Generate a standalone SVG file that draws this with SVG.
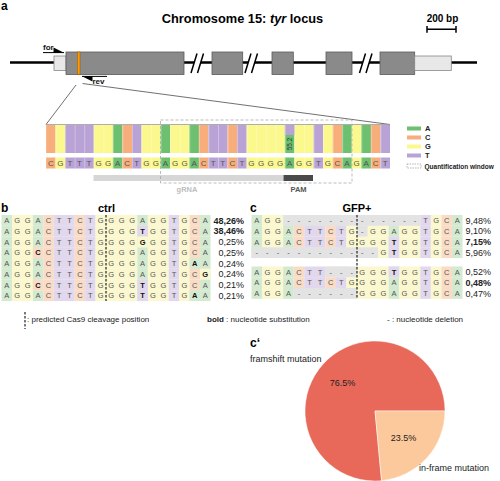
<svg xmlns="http://www.w3.org/2000/svg" xmlns:xlink="http://www.w3.org/1999/xlink" width="500" height="481" viewBox="0 0 500 481">
<style>
text{font-family:"Liberation Sans",Arial,sans-serif}
.a{fill:#6cc070}.c{fill:#f8ae7a}.g{fill:#fbf88e}.t{fill:#b9a3d6}
.la{fill:#d3ead0}.lc{fill:#fadcc6}.lg{fill:#fbf8cf}.lt{fill:#e1d8ed}.ld{fill:#e3e3e3}
.exon{fill:#8a8a8a;stroke:#5a5a5a;stroke-width:0.8}
.utr{fill:#e8e8e8;stroke:#888;stroke-width:0.8}
.brk{stroke:#000;stroke-width:1.5}
.lbl{font-weight:bold;fill:#000}
.seq{font-size:8px;fill:#555;text-anchor:middle}
.sb{font-size:7.5px;fill:#555;text-anchor:middle}
.bo{font-weight:bold;fill:#111}
.pct{font-size:9px;fill:#222;text-anchor:end}
.cut{stroke:#222;stroke-width:1.2;stroke-dasharray:2.5 1.5}
.leg{font-size:7.5px;font-weight:bold;fill:#222}
.note{font-size:8px;fill:#222}
</style>
<defs>
<pattern id="sep" x="46" y="0" width="9.5556" height="10" patternUnits="userSpaceOnUse"><rect width="0.5" height="10" fill="#fff" fill-opacity="0.6"/></pattern>
<g id="cols">
<rect class="c" x="46" width="9.6" height="1"/>
<rect class="g" x="55.56" width="9.6" height="1"/>
<rect class="t" x="65.11" width="28.7" height="1"/>
<rect class="g" x="93.78" width="19.15" height="1"/>
<rect class="a" x="112.89" width="9.6" height="1"/>
<rect class="c" x="122.44" width="9.6" height="1"/>
<rect class="t" x="132" width="9.6" height="1"/>
<rect class="g" x="141.56" width="19.15" height="1"/>
<rect class="a" x="160.67" width="9.6" height="1"/>
<rect class="g" x="170.22" width="19.15" height="1"/>
<rect class="a" x="189.33" width="9.6" height="1"/>
<rect class="c" x="198.89" width="9.6" height="1"/>
<rect class="t" x="208.44" width="19.15" height="1"/>
<rect class="c" x="227.56" width="9.6" height="1"/>
<rect class="t" x="237.11" width="9.6" height="1"/>
<rect class="g" x="246.67" width="38.25" height="1"/>
<rect class="a" x="284.89" width="9.6" height="1"/>
<rect class="g" x="294.44" width="19.15" height="1"/>
<rect class="t" x="313.56" width="9.6" height="1"/>
<rect class="g" x="323.11" width="9.6" height="1"/>
<rect class="c" x="332.67" width="9.6" height="1"/>
<rect class="a" x="342.22" width="9.6" height="1"/>
<rect class="g" x="351.78" width="9.6" height="1"/>
<rect class="a" x="361.33" width="9.6" height="1"/>
<rect class="c" x="370.89" width="9.6" height="1"/>
<rect class="t" x="380.44" width="9.56" height="1"/>
</g>
<g id="rb">
<rect class="la" x="1.5" width="10.5" height="10.8"/>
<rect class="lg" x="11.95" width="20.95" height="10.8"/>
<rect class="la" x="32.85" width="10.5" height="10.8"/>
<rect class="lc" x="43.3" width="10.5" height="10.8"/>
<rect class="lt" x="53.75" width="20.95" height="10.8"/>
<rect class="lc" x="74.65" width="10.5" height="10.8"/>
<rect class="lt" x="85.1" width="10.5" height="10.8"/>
<rect class="lg" x="95.55" width="41.85" height="10.8"/>
<rect class="la" x="137.35" width="10.5" height="10.8"/>
<rect class="lg" x="147.8" width="20.95" height="10.8"/>
<rect class="lt" x="168.7" width="10.5" height="10.8"/>
<rect class="lg" x="179.15" width="10.5" height="10.8"/>
<rect class="lc" x="189.6" width="10.5" height="10.8"/>
<rect class="la" x="200.05" width="10.45" height="10.8"/>
</g>
<g id="rc">
<rect class="la" x="251.5" width="10.6" height="10.8"/>
<rect class="lg" x="262.05" width="21.15" height="10.8"/>
<rect class="la" x="283.15" width="10.6" height="10.8"/>
<rect class="lc" x="293.7" width="10.6" height="10.8"/>
<rect class="lt" x="304.25" width="21.15" height="10.8"/>
<rect class="lc" x="325.35" width="10.6" height="10.8"/>
<rect class="lt" x="335.9" width="10.6" height="10.8"/>
<rect class="lg" x="346.45" width="42.25" height="10.8"/>
<rect class="la" x="388.65" width="10.6" height="10.8"/>
<rect class="lg" x="399.2" width="21.15" height="10.8"/>
<rect class="lt" x="420.3" width="10.6" height="10.8"/>
<rect class="lg" x="430.85" width="10.6" height="10.8"/>
<rect class="lc" x="441.4" width="10.6" height="10.8"/>
<rect class="la" x="451.95" width="10.55" height="10.8"/>
</g>
</defs>
<rect width="500" height="481" fill="#fff"/>

<g id="panel-a">
<text class="lbl" x="1" y="10" font-size="12">a</text>
<text class="lbl" x="242.5" y="23" font-size="12.8" text-anchor="middle">Chromosome 15: <tspan font-style="italic">tyr</tspan> locus</text>
<text class="lbl" x="442.5" y="21.5" font-size="10" text-anchor="middle">200 bp</text>
<path d="M427,29.3H456M427,26V32.7M456,26V32.7" stroke="#000" stroke-width="1.5" fill="none"/>
</g>

<g id="gene">
<line x1="10" y1="62.5" x2="477" y2="62.5" stroke="#000" stroke-width="2.5"/>
<rect class="utr" x="54" y="56" width="12" height="14.5"/>
<rect class="exon" x="66" y="52" width="118" height="22.5"/>
<rect x="77.3" y="52" width="2.7" height="22.5" fill="#ff9900" stroke="#7a4a00" stroke-width="0.4"/>
<rect class="exon" x="212" y="52" width="30.7" height="22.5"/>
<rect class="exon" x="272" y="52" width="21.3" height="22.5"/>
<rect class="exon" x="326" y="52" width="26" height="22.5"/>
<rect class="exon" x="380" y="52" width="34.7" height="22.5"/>
<rect class="utr" x="414.7" y="56" width="36.6" height="14.5"/>
<g id="breaks">
<polygon points="191,73 197,53.5 203.5,53.5 197.5,73" fill="#fff"/>
<path class="brk" d="M191,73L197,53.5M197.5,73L203.5,53.5"/>
<polygon points="245,73 251,53.5 257.5,53.5 251.5,73" fill="#fff"/>
<path class="brk" d="M245,73L251,53.5M251.5,73L257.5,53.5"/>
<polygon points="359.5,73 365.5,53.5 372,53.5 366,73" fill="#fff"/>
<path class="brk" d="M359.5,73L365.5,53.5M366,73L372,53.5"/>
</g>
<g id="primer-for">
<text x="43" y="50" font-size="8" font-weight="bold" fill="#111">for</text>
<path d="M43,52.6H64" stroke="#000" stroke-width="1"/>
<polygon points="64,52.8 53.5,47.5 53.5,52.8" fill="#000"/>
</g>
<g id="primer-rev">
<text x="92.5" y="83.5" font-size="8" font-weight="bold" fill="#111">rev</text>
<path d="M82,76.4H107" stroke="#000" stroke-width="1"/>
<polygon points="82,76.2 92.5,76.2 92.5,81.5" fill="#000"/>
</g>
</g>

<g id="connectors">
<path d="M76,85L46,124.5M82.5,83.5L390,124.5" stroke="#333" stroke-width="0.7" fill="none"/>
</g>

<g id="chromatogram">
<use xlink:href="#cols" href="#cols" transform="translate(0,125) scale(1,28)"/>
<rect x="284.89" y="125" width="9.6" height="10" class="t"/>
<rect x="46.5" y="125" width="343.5" height="28" fill="url(#sep)"/>
<line x1="46" y1="124.5" x2="390" y2="124.5" stroke="#999" stroke-width="0.8"/>
<text transform="translate(292,144) rotate(-90)" font-size="6.5" fill="#333" text-anchor="middle">55.2</text>
<use xlink:href="#cols" href="#cols" transform="translate(0,157.5) scale(1,11)"/>
<rect x="46.5" y="157.5" width="343.5" height="11" fill="url(#sep)"/>
<text class="seq" y="166" x="50.78 60.34 69.89 79.45 89 98.56 108.11 117.67 127.22 136.78 146.34 155.89 165.45 175 184.56 194.11 203.67 213.22 222.78 232.34 241.89 251.45 261 270.56 280.11 289.67 299.22 308.78 318.34 327.89 337.45 347 356.56 366.11 375.67 385.22">CGTTTGGACTGGAGGACTTCTGGGGAGGTGCAGACT</text>
<rect x="93.5" y="175" width="190" height="6" fill="#d6d6d6"/>
<rect x="283.5" y="175" width="29.5" height="6" fill="#4a4a4a"/>
<rect x="160.5" y="120" width="191.5" height="63" fill="none" stroke="#aaa" stroke-width="0.8" stroke-dasharray="3 2"/>
<text x="187" y="191.5" font-size="7.5" font-weight="bold" fill="#bdbdbd" text-anchor="middle">gRNA</text>
<text x="298.5" y="191.5" font-size="7.5" font-weight="bold" fill="#555" text-anchor="middle">PAM</text>
</g>

<g id="legend-a">
<rect class="a" x="407" y="126.5" width="14" height="4"/>
<rect class="c" x="407" y="135.5" width="14" height="4"/>
<rect class="g" x="407" y="144.5" width="14" height="4"/>
<rect class="t" x="407" y="153.5" width="14" height="4"/>
<rect x="407" y="164" width="14" height="4" fill="none" stroke="#999" stroke-width="0.7" stroke-dasharray="1.5 1"/>
<text class="leg" x="425" y="131.2">A</text>
<text class="leg" x="425" y="140.2">C</text>
<text class="leg" x="425" y="149.2">G</text>
<text class="leg" x="425" y="158.2">T</text>
<text class="leg" x="424.5" y="168.7" style="font-size:6.5px">Quantification window</text>
</g>

<g id="panel-b">
<text class="lbl" x="1" y="211.7" font-size="12">b</text>
<text class="lbl" x="106.5" y="211.7" font-size="11" text-anchor="middle">ctrl</text>
<use href="#rb" xlink:href="#rb" y="215"/>
<use href="#rb" xlink:href="#rb" y="225.75"/>
<use href="#rb" xlink:href="#rb" y="236.5"/>
<use href="#rb" xlink:href="#rb" y="247.25"/>
<use href="#rb" xlink:href="#rb" y="258"/>
<use href="#rb" xlink:href="#rb" y="268.75"/>
<use href="#rb" xlink:href="#rb" y="279.5"/>
<use href="#rb" xlink:href="#rb" y="290.25"/>
<rect class="lt" x="137.35" y="225.75" width="10.5" height="10.8"/>
<rect class="lg" x="137.35" y="236.5" width="10.5" height="10.8"/>
<rect class="lc" x="32.85" y="247.25" width="10.5" height="10.8"/>
<rect class="la" x="189.6" y="258" width="10.5" height="10.8"/>
<rect class="lg" x="200.05" y="268.75" width="10.45" height="10.8"/>
<rect class="lc" x="32.85" y="279.5" width="10.5" height="10.8"/>
<rect class="lt" x="137.35" y="279.5" width="10.5" height="10.8"/>
<rect class="lt" x="137.35" y="290.25" width="10.5" height="10.8"/>
<rect class="la" x="189.6" y="290.25" width="10.5" height="10.8"/>
<text class="sb" y="223.1" x="6.73 17.18 27.63 38.08 48.53 58.98 69.43 79.88 90.33 100.78 111.23 121.68 132.13 142.58 153.03 163.48 173.93 184.38 194.83 205.28">AGGACTTCTGGGGAGGTGCA</text>
<text class="sb" y="233.85" x="6.73 17.18 27.63 38.08 48.53 58.98 69.43 79.88 90.33 100.78 111.23 121.68 132.13 142.58 153.03 163.48 173.93 184.38 194.83 205.28">AGGACTTCTGGGG<tspan class="bo">T</tspan>GGTGCA</text>
<text class="sb" y="244.6" x="6.73 17.18 27.63 38.08 48.53 58.98 69.43 79.88 90.33 100.78 111.23 121.68 132.13 142.58 153.03 163.48 173.93 184.38 194.83 205.28">AGGACTTCTGGGG<tspan class="bo">G</tspan>GGTGCA</text>
<text class="sb" y="255.35" x="6.73 17.18 27.63 38.08 48.53 58.98 69.43 79.88 90.33 100.78 111.23 121.68 132.13 142.58 153.03 163.48 173.93 184.38 194.83 205.28">AGG<tspan class="bo">C</tspan>CTTCTGGGGAGGTGCA</text>
<text class="sb" y="266.1" x="6.73 17.18 27.63 38.08 48.53 58.98 69.43 79.88 90.33 100.78 111.23 121.68 132.13 142.58 153.03 163.48 173.93 184.38 194.83 205.28">AGGACTTCTGGGGAGGTG<tspan class="bo">A</tspan>A</text>
<text class="sb" y="276.85" x="6.73 17.18 27.63 38.08 48.53 58.98 69.43 79.88 90.33 100.78 111.23 121.68 132.13 142.58 153.03 163.48 173.93 184.38 194.83 205.28">AGGACTTCTGGGGAGGTGC<tspan class="bo">G</tspan></text>
<text class="sb" y="287.6" x="6.73 17.18 27.63 38.08 48.53 58.98 69.43 79.88 90.33 100.78 111.23 121.68 132.13 142.58 153.03 163.48 173.93 184.38 194.83 205.28">AGG<tspan class="bo">C</tspan>CTTCTGGGG<tspan class="bo">T</tspan>GGTGCA</text>
<text class="sb" y="298.35" x="6.73 17.18 27.63 38.08 48.53 58.98 69.43 79.88 90.33 100.78 111.23 121.68 132.13 142.58 153.03 163.48 173.93 184.38 194.83 205.28">AGGACTTCTGGGG<tspan class="bo">T</tspan>GGTG<tspan class="bo">A</tspan>A</text>
<line class="cut" x1="106" y1="215" x2="106" y2="301"/>
<text class="pct" x="244" y="223.6" font-weight="bold">48,26%</text>
<text class="pct" x="244" y="234.35" font-weight="bold">38,46%</text>
<text class="pct" x="244" y="245.1">0,25%</text>
<text class="pct" x="244" y="255.85">0,25%</text>
<text class="pct" x="244" y="266.6">0,24%</text>
<text class="pct" x="244" y="277.35">0,24%</text>
<text class="pct" x="244" y="288.1">0,21%</text>
<text class="pct" x="244" y="298.85">0,21%</text>
</g>

<g id="panel-c">
<text class="lbl" x="250" y="211.7" font-size="12">c</text>
<text class="lbl" x="357" y="211.7" font-size="11" text-anchor="middle">GFP+</text>
<use href="#rc" xlink:href="#rc" y="215"/>
<use href="#rc" xlink:href="#rc" y="225.75"/>
<use href="#rc" xlink:href="#rc" y="236.5"/>
<use href="#rc" xlink:href="#rc" y="247.25"/>
<use href="#rc" xlink:href="#rc" y="266.5"/>
<use href="#rc" xlink:href="#rc" y="277.25"/>
<use href="#rc" xlink:href="#rc" y="288"/>
<rect class="ld" x="283.15" y="215" width="137.15" height="10.8"/>
<rect class="ld" x="357" y="225.75" width="10.6" height="10.8"/>
<rect class="lt" x="388.65" y="236.5" width="10.6" height="10.8"/>
<rect class="ld" x="251.5" y="247.25" width="126.6" height="10.8"/>
<rect class="lt" x="388.65" y="247.25" width="10.6" height="10.8"/>
<rect class="ld" x="325.35" y="266.5" width="31.65" height="10.8"/>
<rect class="lt" x="388.65" y="266.5" width="10.6" height="10.8"/>
<rect class="ld" x="293.7" y="288" width="63.3" height="10.8"/>
<text class="sb" y="223.1" x="256.78 267.33 277.88 288.43 298.98 309.53 320.08 330.63 341.18 351.73 362.28 372.83 383.38 393.93 404.48 415.03 425.58 436.13 446.68 457.23">AGG-------------TGCA</text>
<text class="sb" y="233.85" x="256.78 267.33 277.88 288.43 298.98 309.53 320.08 330.63 341.18 351.73 362.28 372.83 383.38 393.93 404.48 415.03 425.58 436.13 446.68 457.23">AGGACTTCTG-GGAGGTGCA</text>
<text class="sb" y="244.6" x="256.78 267.33 277.88 288.43 298.98 309.53 320.08 330.63 341.18 351.73 362.28 372.83 383.38 393.93 404.48 415.03 425.58 436.13 446.68 457.23">AGGACTTCTGGGG<tspan class="bo">T</tspan>GGTGCA</text>
<text class="sb" y="255.35" x="256.78 267.33 277.88 288.43 298.98 309.53 320.08 330.63 341.18 351.73 362.28 372.83 383.38 393.93 404.48 415.03 425.58 436.13 446.68 457.23">------------G<tspan class="bo">T</tspan>GGTGCA</text>
<text class="sb" y="274.6" x="256.78 267.33 277.88 288.43 298.98 309.53 320.08 330.63 341.18 351.73 362.28 372.83 383.38 393.93 404.48 415.03 425.58 436.13 446.68 457.23">AGGACTT---GGG<tspan class="bo">T</tspan>GGTGCA</text>
<text class="sb" y="285.35" x="256.78 267.33 277.88 288.43 298.98 309.53 320.08 330.63 341.18 351.73 362.28 372.83 383.38 393.93 404.48 415.03 425.58 436.13 446.68 457.23">AGGACTTCTGGGGAGGTGCA</text>
<text class="sb" y="296.1" x="256.78 267.33 277.88 288.43 298.98 309.53 320.08 330.63 341.18 351.73 362.28 372.83 383.38 393.93 404.48 415.03 425.58 436.13 446.68 457.23">AGGA------GGGAGGTGCA</text>
<line class="cut" x1="357" y1="215" x2="357" y2="299"/>
<text class="pct" x="491" y="223.6">9,48%</text>
<text class="pct" x="491" y="234.35">9,10%</text>
<text class="pct" x="491" y="245.1" font-weight="bold">7,15%</text>
<text class="pct" x="491" y="255.85">5,96%</text>
<text class="pct" x="491" y="275.1">0,52%</text>
<text class="pct" x="491" y="285.85" font-weight="bold">0,48%</text>
<text class="pct" x="491" y="296.6">0,47%</text>
</g>

<g id="legend-bc">
<line class="cut" x1="25" y1="312" x2="25" y2="329"/>
<text class="note" x="27" y="322">: predicted Cas9 cleavage position</text>
<text class="note" x="207" y="322"><tspan font-weight="bold">bold</tspan> : nucleotide substitution</text>
<text class="note" x="387" y="322">- : nucleotide deletion</text>
</g>

<g id="panel-c2">
<text class="lbl" x="250" y="347" font-size="12">c‘</text>
<path d="M375,411L381.59,480.69A70,70 0 1 1 445,411Z" fill="#e8695a" stroke="#fff" stroke-width="0.5"/>
<path d="M375,411L445,411A70,70 0 0 1 381.59,480.69Z" fill="#fcc99c" stroke="#fff" stroke-width="0.5"/>
<text x="250" y="362" font-size="9" fill="#222">framshift mutation</text>
<text x="342.5" y="386" font-size="9" fill="#222" text-anchor="middle">76.5%</text>
<text x="403.5" y="441" font-size="9" fill="#222" text-anchor="middle">23.5%</text>
<text x="419" y="471" font-size="9" fill="#222">in-frame mutation</text>
</g>
</svg>
